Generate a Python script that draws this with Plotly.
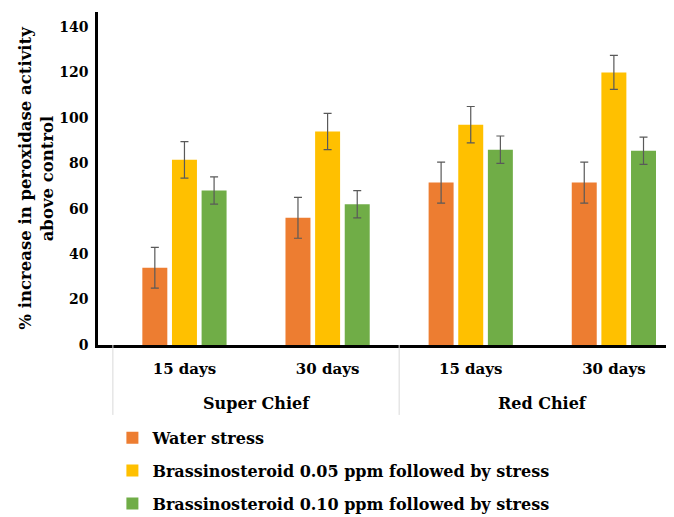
import plotly.graph_objects as go

varieties = ["Super Chief", "Super Chief", "Red Chief", "Red Chief"]
durations = ["15 days", "30 days", "15 days", "30 days"]

series_names = [
    "Water stress",
    "Brassinosteroid 0.05 ppm followed by stress",
    "Brassinosteroid 0.10 ppm followed by stress",
]
water_stress = [34, 56, 71.5, 71.5]
br_005 = [81.5, 94, 97, 120]
br_010 = [68, 62, 86, 85.5]
err_water = [9, 9, 9, 9]
err_005 = [8, 8, 8, 7.5]
err_010 = [6, 6, 6, 6]

colors = ["#ED7D31", "#FFC000", "#70AD47"]
values = [water_stress, br_005, br_010]
errors = [err_water, err_005, err_010]

FONT = "DejaVu Serif"

x_keys = [f"{v}|{d}" for v, d in zip(varieties, durations)]

fig = go.Figure()
for i, (name, vals, errs) in enumerate(zip(series_names, values, errors)):
    fig.add_trace(go.Bar(
        x=x_keys,
        y=vals,
        name=name,
        legendgroup=f"g{i}",
        marker=dict(color=colors[i], line=dict(width=0)),
        error_y=dict(type="data", array=errs, color="#595959", thickness=1.2, width=4),
    ))

groups = []
for idx, v in enumerate(varieties):
    if not groups or groups[-1][0] != v:
        groups.append([v, idx, idx])
    else:
        groups[-1][2] = idx

annotations = []
shapes = []
for name, i0, i1 in groups:
    annotations.append(dict(
        x=(i0 + i1) / 2, y=-0.177, xref="x", yref="paper",
        text=name, showarrow=False, yanchor="middle",
        font=dict(family=FONT, size=16, weight="bold", color="black"),
    ))
    shapes.append(dict(type="line", xref="x", yref="paper",
                       x0=i0 - 0.5, x1=i0 - 0.5, y0=0, y1=-0.21,
                       line=dict(color="#d9d9d9", width=1)))
shapes.append(dict(type="line", xref="x", yref="paper",
                   x0=len(varieties) - 0.5, x1=len(varieties) - 0.5, y0=0, y1=-0.21,
                   line=dict(color="#d9d9d9", width=1)))

fig.update_layout(
    width=666,
    height=509,
    paper_bgcolor="white",
    plot_bgcolor="white",
    barmode="group",
    bargap=0.379,
    bargroupgap=0.157,
    margin=dict(l=90, r=0, t=4, b=172, autoexpand=False),
    font=dict(family=FONT, color="black"),
    showlegend=True,
    legend=dict(
        x=0.025, y=-0.228, xanchor="left", yanchor="top",
        orientation="v",
        font=dict(family=FONT, size=16, weight="bold", color="black"),
        tracegroupgap=9,
        bgcolor="rgba(0,0,0,0)",
    ),
    annotations=annotations,
    shapes=shapes,
)

fig.update_yaxes(
    range=[0, 146.6],
    tickvals=[0, 20, 40, 60, 80, 100, 120, 140],
    showgrid=False,
    zeroline=False,
    showline=True,
    linecolor="black",
    linewidth=2.5,
    ticks="",
    ticklabelstandoff=4,
    automargin=False,
    tickfont=dict(family=FONT, size=14, weight="bold", color="black"),
    title=dict(
        text="% increase in peroxidase activity<br>above control",
        font=dict(family=FONT, size=16.5, weight="bold", color="black"),
        standoff=2,
    ),
)

fig.update_xaxes(
    type="category",
    range=[-0.604, 3.42],
    tickvals=x_keys,
    ticktext=durations,
    showgrid=False,
    showline=True,
    linecolor="black",
    linewidth=2.5,
    ticks="",
    ticklabelstandoff=8,
    automargin=False,
    tickfont=dict(family=FONT, size=15, weight="bold", color="black"),
)

fig.write_html("out.html")
